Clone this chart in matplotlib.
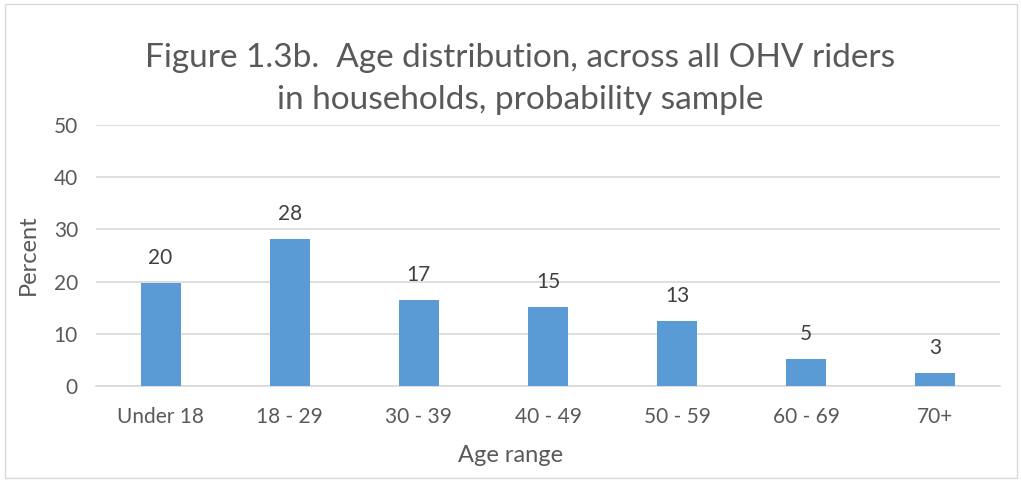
import matplotlib
matplotlib.use("Agg")
import matplotlib.pyplot as plt
from matplotlib.patches import Rectangle

categories = ["Under 18", "18 - 29", "30 - 39", "40 - 49", "50 - 59", "60 - 69", "70+"]
values = [19.8, 28.2, 16.5, 15.1, 12.5, 5.1, 2.4]
labels = ["20", "28", "17", "15", "13", "5", "3"]
yticks = [0, 10, 20, 30, 40, 50]
title_lines = ["Figure 1.3b.  Age distribution, across all OHV riders",
               "in households, probability sample"]

plt.rcParams['font.family'] = ['Lato', 'DejaVu Sans']
txt = '#595959'
W, H = 1021, 482

fig = plt.figure(figsize=(W/100, H/100), dpi=100)
ax = fig.add_axes([96/W, 1-386/H, (1000-96)/W, (386-125)/H])

x = list(range(len(categories)))
ax.bar(x, values, width=0.31, color='#5b9bd5', zorder=3)
for xi, v, lab in zip(x, values, labels):
    ax.annotate(lab, (xi, v), xytext=(0, 18), textcoords='offset points',
                ha='center', va='center', fontsize=15, color='#404040')

ax.set_xlim(-0.5, len(categories) - 0.5)
ax.set_ylim(0, 50)
ax.set_yticks(yticks)
ax.set_xticks(x)
ax.set_xticklabels(categories)
ax.tick_params(axis='both', length=0, labelsize=15, labelcolor=txt)
ax.tick_params(axis='x', pad=15)
ax.tick_params(axis='y', pad=13)
ax.yaxis.grid(True, color='#d9d9d9', linewidth=1.2, zorder=0)
for s in ['top', 'right', 'left']:
    ax.spines[s].set_visible(False)
ax.spines['bottom'].set_color('#d9d9d9')
ax.spines['bottom'].set_linewidth(1.2)

ax.set_xlabel("Age range", fontsize=17, color=txt)
ax.xaxis.set_label_coords((511-96)/904, -(455-386)/261)
ax.xaxis.label.set_va('center')
ax.set_ylabel("Percent", fontsize=17, color=txt)
ax.yaxis.set_label_coords((28-96)/904, (386-255)/261)
ax.yaxis.label.set_va('center')

for line, base in zip(title_lines, [67, 109]):
    fig.text(520/W, 1-base/H, line, ha='center', va='baseline', fontsize=24, color=txt)

fig.patches.append(Rectangle((5/W, 4/H), 1012/W, 474/H, transform=fig.transFigure,
                             fill=False, edgecolor='#d9d9d9', linewidth=1))

fig.savefig("out.png", dpi=100)
